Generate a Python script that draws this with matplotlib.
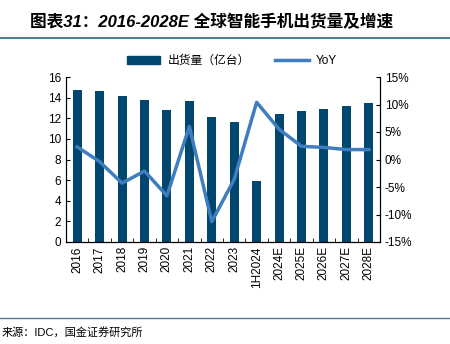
import numpy as np
import matplotlib.pyplot as plt
from matplotlib.lines import Line2D
from matplotlib.patches import Patch

plt.rcParams['font.family'] = ['Liberation Sans', 'Noto Sans CJK SC', 'DejaVu Sans']

years = ['2016', '2017', '2018', '2019', '2020', '2021', '2022', '2023',
         '1H2024', '2024E', '2025E', '2026E', '2027E', '2028E']
shipments = [14.7, 14.6, 14.2, 13.8, 12.8, 13.7, 12.1, 11.6,
             5.9, 12.4, 12.7, 12.9, 13.2, 13.5]
yoy = [2.3, -0.4, -4.3, -2.1, -6.6, 6.0, -11.3, -3.6,
       10.4, 5.5, 2.4, 2.2, 1.8, 1.8]

bar_color = '#00466e'
line_color = '#3f7dbf'
rule_color = '#4d7f9e'

fig = plt.figure(figsize=(4.5, 3.44), dpi=100)
ax = fig.add_axes([66 / 450, 1 - 242 / 344, (380 - 66) / 450, (242 - 77) / 344])
x = np.arange(len(years))
ax.bar(x, shipments, width=0.4, color=bar_color, zorder=2)
ax.set_xlim(-0.5, len(years) - 0.5)
ax.set_ylim(0, 16)
ax.set_yticks(range(0, 17, 2))
ax.set_xticks(x)
ax.set_xticklabels(years, rotation=90, fontsize=8.5)
ax.tick_params(axis='x', length=0, pad=3)
ax.set_xticks(np.arange(-0.5, len(years), 1), minor=True)
ax.tick_params(axis='x', which='minor', direction='in', length=3)
ax.tick_params(axis='y', direction='in', length=3, labelsize=8.5)
ax.spines['top'].set_visible(False)

ax2 = ax.twinx()
ax2.plot(x, yoy, color=line_color, lw=2.5, zorder=3)
ax2.set_ylim(-15, 15)
ax2.set_yticks(range(-15, 16, 5))
ax2.set_yticklabels([f'{v}%' for v in range(-15, 16, 5)])
ax2.tick_params(axis='y', direction='in', length=3, labelsize=8.5)
ax2.spines['top'].set_visible(False)

handles = [Patch(color=bar_color), Line2D([0], [0], color=line_color, lw=2.5)]
fig.legend(handles, ['出货量（亿台）', 'YoY'], loc='center', bbox_to_anchor=(232 / 450, 1 - 61 / 344),
           ncol=2, frameon=False, handlelength=2.8, columnspacing=2.2, handletextpad=0.6,
           prop={'family': ['Liberation Sans', 'Noto Sans CJK SC'], 'size': 8.5})

fig.text(30 / 450, 1 - 22 / 344, '图表31：2016-2028E 全球智能手机出货量及增速',
         fontsize=12, fontweight='bold', style='italic', va='center', ha='left',
         family=['Liberation Sans', 'Noto Sans CJK SC', 'DejaVu Sans'])
fig.add_artist(Line2D([0, 1], [1 - 38 / 344] * 2, color=rule_color, lw=1.5))
fig.add_artist(Line2D([0, 1], [1 - 318 / 344] * 2, color=rule_color, lw=1))
fig.text(2 / 450, 1 - 332 / 344, '来源：IDC，国金证券研究所', fontsize=8, va='center', ha='left',
         family=['Liberation Sans', 'Noto Sans CJK SC', 'DejaVu Sans'])

fig.savefig('out.png', dpi=100)
